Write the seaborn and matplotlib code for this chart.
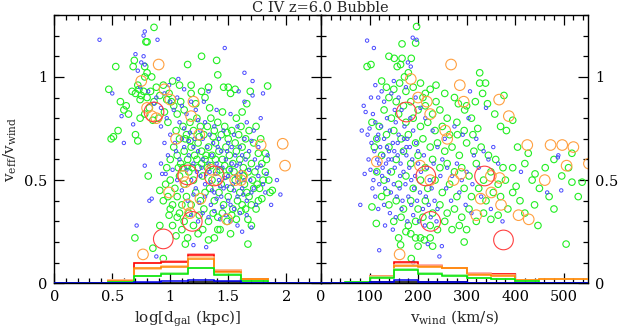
import numpy as np
import seaborn as sns
import matplotlib.pyplot as plt
from matplotlib.ticker import MultipleLocator

# ---- left panel: log d_gal vs v_eff/v_wind ----
left_blue = [
    (0.39,1.18),(0.77,1.20),(0.78,1.22),(0.89,1.18),(1.47,1.14),(0.70,1.11),(0.77,1.10),(0.75,1.07),(0.78,1.06),
    (1.64,1.02),(1.07,0.99),(1.71,0.98),(0.72,1.03),(0.74,0.95),(0.81,0.93),(1.59,0.93),(1.80,0.92),(1.71,0.91),
    (1.33,0.93),(0.50,0.92),(0.58,0.81),(0.68,0.77),(0.60,0.68),(0.78,0.57),(0.92,0.58),(0.84,0.41),(0.82,0.40),
    (0.88,0.13),(1.31,0.175),(1.20,0.185),(1.58,0.28),(1.95,0.43),(1.87,0.38),(1.92,0.50),(0.93,0.53),(0.96,0.53),
    (0.71,0.28),(0.86,0.87),(0.88,0.90),(0.92,0.85),(0.95,0.92),(1.00,0.88),(1.03,0.84),(1.06,0.90),(1.10,0.86),
    (1.14,0.82),(1.18,0.88),(1.22,0.84),(1.24,0.79),(1.08,0.78),(1.12,0.75),(1.17,0.73),(1.21,0.70),(1.26,0.74),
    (1.30,0.78),(1.34,0.72),(1.38,0.76),(1.42,0.70),(1.46,0.74),(1.50,0.68),(1.55,0.72),(1.60,0.66),(1.64,0.70),
    (1.68,0.64),(1.73,0.60),(1.78,0.57),(1.83,0.53),(1.80,0.48),(1.76,0.52),(1.72,0.46),(1.68,0.55),(1.64,0.50),
    (1.60,0.58),(1.56,0.62),(1.52,0.55),(1.48,0.60),(1.44,0.64),(1.40,0.58),(1.36,0.62),(1.32,0.66),(1.28,0.60),
    (1.24,0.64),(1.20,0.58),(1.16,0.62),(1.12,0.66),(1.08,0.60),(1.04,0.68),(1.00,0.72),(1.14,0.55),(1.18,0.50),
    (1.22,0.46),(1.26,0.52),(1.30,0.48),(1.34,0.54),(1.38,0.44),(1.42,0.50),(1.46,0.46),(1.50,0.52),(1.54,0.48),
    (1.58,0.42),(1.62,0.46),(1.66,0.40),(1.70,0.44),(1.74,0.38),(1.55,0.36),(1.50,0.40),(1.45,0.37),(1.40,0.41),
    (1.35,0.38),(1.30,0.42),(1.25,0.39),(1.20,0.43),(1.15,0.40),(1.10,0.45),(1.06,0.50),(1.02,0.55),(1.28,0.34),
    (1.33,0.32),(1.38,0.35),(1.43,0.31),(1.48,0.33),(1.52,0.30),(1.60,0.34),(1.24,0.30),(1.18,0.33),(1.62,0.25),
    (1.70,0.27),(1.41,0.56),(1.37,0.68),(1.33,0.58),(1.45,0.56),(1.49,0.64),(1.53,0.58),(1.57,0.52),(1.61,0.54),
    (1.65,0.60),(1.69,0.50),(1.75,0.56),(1.28,0.70),(1.20,0.66),(1.16,0.69),(1.10,0.70),(1.05,0.64),(0.98,0.62),
    (0.95,0.68),(1.58,0.76),(1.66,0.78),(1.72,0.74),(1.76,0.66),(1.84,0.62),(1.82,0.44),(1.66,0.33),(1.35,0.49),
    (1.31,0.53),(1.43,0.47),(1.47,0.51),(1.27,0.56),(1.23,0.54),(1.39,0.53),(1.55,0.45),(1.59,0.49),(1.63,0.43),
    (0.97,0.80),(0.92,0.76),(0.99,0.96),(1.12,0.94),(1.29,0.88),(1.40,0.84),(1.52,0.82),(1.64,0.88),(1.78,0.80),
    (1.70,0.69),(1.36,0.45),(1.44,0.42),(1.52,0.38),(1.57,0.57),(1.49,0.47),(1.41,0.66),(1.53,0.66),(1.62,0.62),
]
left_green = [
    (0.86,1.24),(0.79,1.17),(0.80,1.17),(1.27,1.10),(1.40,1.08),(1.15,1.06),(0.69,1.08),(0.68,1.05),(0.53,1.05),
    (0.78,1.05),(0.80,1.02),(0.84,1.00),(0.78,1.00),(1.41,1.01),(1.18,0.96),(1.27,0.93),(1.33,0.95),(1.46,0.95),
    (1.50,0.95),(1.56,0.94),(1.52,0.92),(1.69,0.93),(1.84,0.956),(0.47,0.94),(0.57,0.88),(0.62,0.86),(0.695,0.22),
    (0.91,0.28),(0.85,0.17),(0.94,0.12),(0.81,0.52),(0.91,0.45),(0.99,0.33),(1.02,0.28),(1.05,0.23),(1.13,0.19),
    (1.24,0.24),(1.33,0.21),(1.38,0.22),(1.41,0.26),(1.67,0.19),(1.70,0.28),(1.67,0.31),(1.88,0.45),(1.82,0.63),
    (0.49,0.70),(0.51,0.71),(0.55,0.74),(0.60,0.84),(0.64,0.82),(0.70,0.72),(0.72,0.69),
    (0.70,0.92),(0.73,0.94),(0.75,0.91),(0.77,0.93),(0.74,0.89),(0.72,0.96),(0.80,0.90),(0.83,0.93),(0.86,0.88),
    (0.88,0.95),(0.91,0.91),(0.94,0.96),(0.97,0.89),(0.99,0.92),(1.01,0.88),(1.03,0.86),(0.82,0.85),(0.78,0.82),
    (0.85,0.79),(0.90,0.80),(0.95,0.83),(0.98,0.78),(0.74,0.80),(0.67,0.93),(1.06,0.82),(1.09,0.88),(1.12,0.84),
    (1.05,0.74),(1.08,0.70),(1.11,0.76),(1.14,0.72),(1.17,0.78),(1.20,0.74),(1.23,0.80),(1.26,0.76),(1.29,0.72),
    (1.32,0.76),(1.35,0.80),(1.38,0.74),(1.41,0.78),(1.44,0.72),(1.47,0.76),(1.50,0.70),(1.53,0.74),(1.56,0.68),
    (1.59,0.72),(1.62,0.66),(1.65,0.70),(1.68,0.74),(1.72,0.68),(1.76,0.63),(1.79,0.58),(1.82,0.54),(1.85,0.50),
    (1.80,0.50),(1.77,0.46),(1.73,0.54),(1.70,0.58),(1.66,0.62),(1.63,0.56),(1.60,0.60),(1.57,0.64),(1.54,0.58),
    (1.51,0.62),(1.48,0.66),(1.45,0.60),(1.42,0.64),(1.39,0.68),(1.36,0.62),(1.33,0.66),(1.30,0.60),(1.27,0.64),
    (1.24,0.68),(1.21,0.62),(1.18,0.66),(1.15,0.60),(1.12,0.64),(1.09,0.58),(1.06,0.62),(1.03,0.66),(1.00,0.60),
    (0.97,0.56),(1.00,0.50),(1.04,0.46),(1.08,0.52),(1.12,0.48),(1.16,0.54),(1.20,0.50),(1.24,0.56),(1.28,0.52),
    (1.32,0.56),(1.36,0.50),(1.40,0.54),(1.44,0.48),(1.48,0.52),(1.52,0.46),(1.56,0.50),(1.60,0.44),(1.64,0.48),
    (1.68,0.42),(1.72,0.46),(1.76,0.40),(1.74,0.36),(1.70,0.38),(1.66,0.44),(1.62,0.38),(1.58,0.40),(1.54,0.36),
    (1.50,0.42),(1.46,0.38),(1.42,0.44),(1.38,0.40),(1.34,0.46),(1.30,0.44),(1.26,0.40),(1.22,0.44),(1.18,0.38),
    (1.14,0.42),(1.10,0.38),(1.06,0.42),(1.02,0.38),(0.98,0.42),(0.96,0.48),(1.08,0.34),(1.12,0.30),(1.16,0.34),
    (1.20,0.28),(1.25,0.33),(1.29,0.36),(1.33,0.30),(1.37,0.34),(1.41,0.32),(1.45,0.34),(1.49,0.30),(1.53,0.33),
    (1.57,0.31),(1.61,0.35),(1.65,0.36),(1.10,0.26),(1.06,0.32),(1.00,0.36),(0.94,0.40),(1.35,0.57),(1.39,0.60),
    (1.43,0.55),(1.47,0.57),(1.51,0.55),(1.55,0.54),(1.59,0.52),(1.63,0.52),(1.67,0.54),(1.71,0.50),(1.75,0.48),
    (1.31,0.62),(1.27,0.58),(1.23,0.60),(1.19,0.56),(1.15,0.57),(1.11,0.56),(1.07,0.56),(1.13,0.70),(1.17,0.69),
    (1.25,0.71),(1.37,0.71),(1.49,0.73),(1.61,0.76),(1.74,0.76),(1.45,0.83),(1.34,0.85),(1.22,0.87),(1.57,0.80),
    (1.62,0.83),(1.30,0.90),(1.18,0.92),(1.08,0.96),(1.02,0.98),(1.66,0.87),(1.78,0.70),(1.83,0.60),(1.86,0.44),
    (1.79,0.41),(1.43,0.26),(1.52,0.24),(1.28,0.26),(1.15,0.22),
]
left_orange = [
    (0.90,1.06),(0.75,0.98),(0.95,0.94),(1.20,0.88),(1.00,0.89),(0.80,0.85),(0.84,0.81),(1.18,0.81),(1.78,0.67),
    (1.97,0.676),(1.99,0.57),(0.765,0.14),(0.99,0.44),(1.49,0.31),(1.26,0.41),(1.15,0.38),(1.11,0.52),(1.56,0.50),
    (1.61,0.50),(1.17,0.34),(1.05,0.70),(1.25,0.72),(1.35,0.55),(1.40,0.50),(1.62,0.52),(1.13,0.49),(0.88,0.80),
]
left_red = [(0.86,0.83),(1.15,0.525),(1.38,0.52),(1.19,0.30),(0.94,0.215)]

# ---- right panel: v_wind vs v_eff/v_wind ----
right_blue = [
    (95,1.176),(109,1.14),(189,1.19),(197,1.18),(179,1.07),(185,1.05),(307,0.93),(340,0.85),(304,0.80),(488,0.61),
    (81,0.38),(90,0.53),(120,0.16),(244,0.13),(249,0.18),(374,0.30),(412,0.54),(466,0.44),(495,0.45),(489,0.62),
    (190,0.10),(220,0.19),(150,0.98),(125,0.93),(118,0.90),(88,0.86),(92,0.83),(84,0.74),(100,0.75),(107,0.82),
    (112,0.78),(118,0.72),(124,0.76),(130,0.70),(136,0.80),(142,0.74),(148,0.68),(154,0.78),(160,0.72),(166,0.84),
    (172,0.76),(178,0.70),(184,0.80),(190,0.74),(196,0.68),(104,0.68),(110,0.64),(116,0.60),(122,0.66),(128,0.62),
    (134,0.58),(140,0.64),(146,0.60),(152,0.56),(158,0.62),(164,0.58),(170,0.54),(176,0.62),(182,0.56),(188,0.60),
    (194,0.52),(200,0.58),(206,0.54),(212,0.62),(218,0.56),(224,0.50),(98,0.60),(102,0.55),(108,0.50),(114,0.54),
    (120,0.48),(126,0.52),(132,0.46),(138,0.50),(144,0.44),(150,0.48),(156,0.42),(162,0.46),(168,0.40),(174,0.48),
    (180,0.42),(186,0.38),(192,0.46),(198,0.40),(204,0.44),(210,0.36),(216,0.42),(222,0.38),(228,0.46),(234,0.40),
    (240,0.36),(112,0.42),(118,0.36),(130,0.38),(142,0.34),(154,0.32),(166,0.36),(178,0.30),(190,0.33),(202,0.30),
    (214,0.28),(226,0.32),(238,0.30),(132,0.28),(148,0.26),(96,0.72),(103,0.90),(112,0.96),(130,0.88),(145,0.92),
    (160,0.90),(175,0.95),(195,0.90),(205,0.85),(215,0.80),(230,0.74),(240,0.66),(250,0.60),(260,0.56),(270,0.52),
    (280,0.58),(290,0.50),(300,0.54),(312,0.48),(325,0.56),(335,0.64),(345,0.60),(355,0.66),(365,0.58),(315,0.62),
    (258,0.46),(268,0.40),(285,0.44),(298,0.38),(310,0.34),(330,0.42),(350,0.36),(246,0.52),(232,0.58),(255,0.70),
    (275,0.76),(292,0.72),(320,0.70),(120,0.58),(136,0.66),(158,0.68),(176,0.66),(200,0.64),(152,0.84),(168,0.64),
    (186,0.50),(140,0.54),(106,0.46),(115,0.70),(127,0.56),(139,0.60),(151,0.64),(163,0.52),(171,0.70),(183,0.66),
]
right_green = [
    (197,1.244),(195,1.164),(167,1.16),(140,1.10),(151,1.09),(167,1.09),(186,1.09),(95,1.05),(103,1.06),(157,1.05),
    (164,1.06),(180,1.02),(172,1.00),(327,1.02),(339,0.97),(327,0.97),(333,0.92),(377,0.91),(343,0.87),(283,0.87),
    (296,0.84),(395,0.79),(382,0.74),(323,0.75),(313,0.72),(281,0.72),(237,0.96),(237,0.88),(427,0.63),(517,0.63),
    (164,0.186),(505,0.19),(538,0.49),(517,0.49),(496,0.52),(441,0.53),(447,0.28),(402,0.47),(395,0.56),(295,0.20),
    (300,0.26),(185,0.24),(195,0.22),(205,0.22),(213,0.21),(225,0.22),(114,0.29),(105,0.37),(136,0.44),(186,0.12),
    (125,0.98),(135,0.95),(150,0.94),(162,0.97),(175,0.93),(190,0.95),(205,0.97),(215,0.92),(225,0.94),(140,0.90),
    (155,0.88),(170,0.86),(185,0.88),(200,0.84),(215,0.86),(230,0.82),(245,0.84),(260,0.80),(130,0.84),(145,0.80),
    (160,0.82),(175,0.78),(190,0.80),(205,0.76),(220,0.78),(235,0.74),(250,0.76),(265,0.72),(280,0.78),(295,0.74),
    (310,0.80),(120,0.76),(135,0.72),(150,0.74),(165,0.70),(180,0.72),(195,0.68),(210,0.70),(225,0.66),(240,0.68),
    (255,0.64),(270,0.66),(285,0.62),(300,0.68),(315,0.64),(330,0.66),(345,0.62),(360,0.60),(375,0.56),(110,0.66),
    (125,0.62),(140,0.66),(155,0.60),(170,0.64),(185,0.58),(200,0.62),(215,0.56),(230,0.60),(245,0.56),(260,0.58),
    (275,0.54),(290,0.56),(305,0.52),(320,0.58),(335,0.50),(350,0.54),(365,0.48),(380,0.50),(395,0.44),(410,0.40),
    (115,0.54),(130,0.50),(145,0.54),(160,0.48),(175,0.52),(190,0.46),(205,0.50),(220,0.46),(235,0.50),(250,0.44),
    (265,0.48),(280,0.42),(295,0.46),(310,0.42),(325,0.46),(340,0.40),(355,0.44),(370,0.42),(385,0.36),(125,0.42),
    (140,0.38),(155,0.40),(170,0.36),(185,0.40),(200,0.36),(215,0.40),(230,0.34),(245,0.38),(260,0.34),(275,0.36),
    (290,0.32),(305,0.36),(320,0.30),(335,0.34),(350,0.31),(365,0.33),(150,0.30),(165,0.32),(180,0.28),(195,0.30),
    (210,0.32),(225,0.28),(240,0.26),(255,0.30),(270,0.26),(285,0.28),(160,0.22),(175,0.25),(200,0.18),(230,0.18),
    (115,0.70),(105,0.78),(210,0.90),(255,0.92),(275,0.90),(300,0.86),(318,0.88),(358,0.82),(370,0.76),(405,0.66),
    (420,0.58),(435,0.50),(450,0.46),(470,0.42),(480,0.36),(420,0.34),(440,0.38),(462,0.56),(480,0.60),(530,0.42),
    (510,0.56),
]
right_orange = [
    (268,1.06),(286,0.96),(185,0.99),(200,0.90),(218,0.88),(225,0.82),(294,0.88),(367,0.89),(387,0.81),(256,0.74),
    (260,0.70),(425,0.67),(473,0.67),(497,0.67),(520,0.66),(162,0.14),(506,0.57),(461,0.50),(552,0.58),(407,0.33),
    (428,0.31),(371,0.38),(320,0.33),(351,0.44),(329,0.41),(288,0.53),(273,0.50),(368,0.51),(115,0.59),(204,0.57),
    (225,0.50),(350,0.52),
]
right_red = [(176,0.83),(216,0.52),(337,0.52),(226,0.30),(376,0.21)]

# ---- step histograms along the bottom ----
left_edges = np.arange(11) * 0.23
left_hist = {
    'red':          [0, 0, 0.013, 0.096, 0.102, 0.137, 0.058, 0.020, 0, 0],
    'red_light':    [0, 0, 0.014, 0.099, 0.106, 0.142, 0.062, 0.022, 0, 0],
    'orange':       [0, 0, 0.013, 0.076, 0.080, 0.119, 0.057, 0.020, 0, 0],
    'orange_light': [0, 0, 0.016, 0.068, 0.086, 0.126, 0.064, 0.023, 0, 0],
    'green':        [0, 0, 0.006, 0.036, 0.047, 0.074, 0.042, 0.010, 0, 0],
    'green_light':  [0, 0, 0.008, 0.034, 0.050, 0.076, 0.046, 0.012, 0, 0],
    'black':        [0, 0, 0, 0.003, 0.003, 0.004, 0.004, 0.003, 0, 0],
    'blue':         [0, 0, 0, 0.004, 0.010, 0.015, 0.013, 0, 0, 0],
}
right_edges = np.arange(12) * 50
right_hist = {
    'red':          [0, 0, 0.034, 0.102, 0.083, 0.073, 0.047, 0.043, 0, 0, 0],
    'red_light':    [0, 0, 0.036, 0.100, 0.088, 0.075, 0.050, 0.046, 0, 0, 0],
    'orange':       [0, 0, 0.032, 0.086, 0.078, 0.072, 0.040, 0.036, 0.016, 0.019, 0.019],
    'orange_light': [0, 0, 0.036, 0.090, 0.082, 0.074, 0.043, 0.038, 0.017, 0.020, 0.021],
    'green':        [0, 0.004, 0.027, 0.062, 0.044, 0.036, 0.024, 0.019, 0.010, 0, 0],
    'green_light':  [0, 0.005, 0.029, 0.070, 0.048, 0.038, 0.027, 0.020, 0.011, 0, 0],
    'black':        [0, 0, 0.004, 0.004, 0.004, 0.004, 0.003, 0, 0, 0, 0],
    'blue':         [0, 0, 0.008, 0.015, 0.008, 0.005, 0.002, 0, 0, 0, 0],
}

hist_colors = {'red': '#ff0000', 'red_light': '#ff9a9a', 'orange': '#ff8800',
               'orange_light': '#ffc080', 'green': '#00e600', 'green_light': '#90f090',
               'black': '#000000', 'blue': '#0000ee'}

sns.set_style('ticks')
plt.rcParams['font.family'] = ['DejaVu Serif']
plt.rcParams['mathtext.fontset'] = 'dejavuserif'

fig = plt.figure(figsize=(6.2, 3.28), dpi=100)
ax1 = fig.add_axes([0.0876, 0.1363, 0.4301, 0.818])
ax2 = fig.add_axes([0.5177, 0.1363, 0.4306, 0.818])

groups = [('green', '#22ee22', 22, 0.8), ('blue', '#4a4aff', 6, 0.7),
          ('orange', '#ffa040', 58, 0.8), ('red', '#ff4040', 200, 0.8)]

def draw(ax, pts, hist, edges):
    for name, col, s, lw in groups:
        arr = np.array(pts[name])
        sns.scatterplot(x=arr[:, 0], y=arr[:, 1], ax=ax, s=s, facecolor='none',
                        edgecolor=col, linewidth=lw, legend=False, zorder=2)
    for key in ['red_light', 'red', 'orange_light', 'orange', 'green_light', 'green', 'black', 'blue']:
        ax.stairs(hist[key], edges, color=hist_colors[key], lw=1.1, zorder=3, baseline=None)

draw(ax1, {'blue': left_blue, 'green': left_green, 'orange': left_orange, 'red': left_red},
     left_hist, left_edges)
draw(ax2, {'blue': right_blue, 'green': right_green, 'orange': right_orange, 'red': right_red},
     right_hist, right_edges)

for ax in (ax1, ax2):
    ax.set_ylim(0, 1.3)
    ax.yaxis.set_major_locator(MultipleLocator(0.5))
    ax.yaxis.set_minor_locator(MultipleLocator(0.1))
    ax.tick_params(which='both', direction='in', top=True, bottom=True, left=True, right=True,
                   labelsize=10.5, width=0.9, colors='black', pad=5)
    ax.tick_params(which='major', length=7)
    ax.tick_params(which='minor', length=3.5)
    for sp in ax.spines.values():
        sp.set_linewidth(1.0)
        sp.set_color('black')
    ax.yaxis.set_major_formatter(plt.FuncFormatter(lambda v, p: f'{v:g}'))
    ax.xaxis.set_major_formatter(plt.FuncFormatter(lambda v, p: f'{v:g}'))

ax1.set_xlim(0, 2.3)
ax1.xaxis.set_major_locator(MultipleLocator(0.5))
ax1.xaxis.set_minor_locator(MultipleLocator(0.1))
ax1.tick_params(labelleft=True, labelright=False)
ax1.set_xlabel(r'$\mathrm{log[d_{gal}\ (kpc)]}$', fontsize=11, labelpad=3)
ax1.set_ylabel(r'$\mathrm{v_{eff}/v_{wind}}$', fontsize=11, labelpad=4)

ax2.set_xlim(0, 550)
ax2.xaxis.set_major_locator(MultipleLocator(100))
ax2.xaxis.set_minor_locator(MultipleLocator(20))
ax2.tick_params(labelleft=False, labelright=True)
ax2.set_xlabel(r'$\mathrm{v_{wind}\ (km/s)}$', fontsize=11, labelpad=3)
ax2.set_ylabel('')

fig.text(0.517, 0.975, 'C IV z=6.0 Bubble', ha='center', va='center', fontsize=10.5)

fig.savefig('out.png', dpi=100)
